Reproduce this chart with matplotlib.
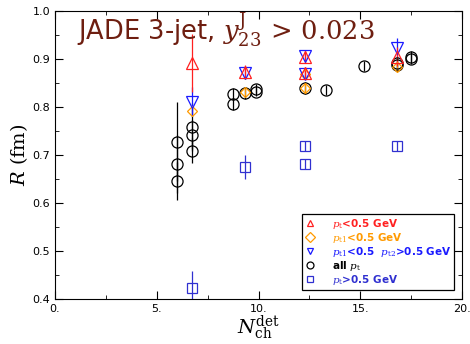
import matplotlib
matplotlib.use("Agg")
import matplotlib.pyplot as plt
from matplotlib.ticker import MultipleLocator, FuncFormatter

# pt < 0.5 GeV (red triangles)
red_x = [6.73, 9.34, 12.3, 12.3, 16.8]
red_y = [0.892, 0.873, 0.904, 0.871, 0.905]
red_err = [0.06, 0.015, 0.012, 0.012, 0.02]

# pt1 < 0.5 GeV (orange diamonds)
orange_x = [6.73, 9.34, 12.3, 12.3, 16.8]
orange_y = [0.792, 0.832, 0.868, 0.840, 0.883]
orange_err = [0.01, 0.01, 0.01, 0.01, 0.01]

# pt1 < 0.5, pt2 > 0.5 GeV (blue down triangles)
blue_x = [6.73, 9.34, 12.3, 12.3, 16.8]
blue_y = [0.811, 0.871, 0.907, 0.868, 0.923]
blue_err = [0.03, 0.012, 0.01, 0.01, 0.02]

# all pt (black circles)
all_x = [5.98, 5.98, 5.98, 6.73, 6.73, 6.73, 8.76, 8.76, 9.34,
         9.86, 9.86, 12.3, 13.3, 15.18, 16.8, 16.8, 17.5, 17.5]
all_y = [0.728, 0.681, 0.646, 0.759, 0.742, 0.709, 0.827, 0.806, 0.829,
         0.838, 0.832, 0.840, 0.835, 0.886, 0.892, 0.888, 0.904, 0.900]
all_err = [0.083, 0.06, 0.04, 0.05, 0.03, 0.026, 0.012, 0.012, 0.012,
           0.01, 0.01, 0.012, 0.01, 0.01, 0.012, 0.01, 0.012, 0.01]

# pt > 0.5 GeV (blue squares)
sq_x = [6.73, 9.34, 12.3, 12.3, 16.8]
sq_y = [0.423, 0.675, 0.719, 0.681, 0.719]
sq_err = [0.035, 0.025, 0.01, 0.01, 0.01]

plt.rcParams["mathtext.fontset"] = "dejavuserif"

fig = plt.figure(figsize=(4.7, 3.44), dpi=100)
ax = fig.add_axes([0.117, 0.131, 0.866, 0.837])

ms = 8
ax.errorbar(all_x, all_y, yerr=all_err, fmt="o", mfc="none", mec="black",
            ecolor="black", elinewidth=0.9, ms=ms, mew=0.9, label=r"all $p_{\rm t}$")
ax.errorbar(sq_x, sq_y, yerr=sq_err, fmt="s", mfc="none", mec="#3030d0",
            ecolor="#3030d0", elinewidth=0.9, ms=7.5, mew=0.9, label=r"$p_{\rm t}$>0.5 GeV")
ax.errorbar(orange_x, orange_y, yerr=orange_err, fmt="D", mfc="none", mec="#ff9a00",
            ecolor="#ff9a00", elinewidth=0.9, ms=5.5, mew=0.9, label=r"$p_{\rm t1}$<0.5 GeV")
ax.errorbar(blue_x, blue_y, yerr=blue_err, fmt="v", mfc="none", mec="#1a1aff",
            ecolor="#1a1aff", elinewidth=0.9, ms=ms, mew=0.9,
            label=r"$p_{\rm t1}$<0.5  $p_{\rm t2}$>0.5 GeV")
ax.errorbar(red_x, red_y, yerr=red_err, fmt="^", mfc="none", mec="#ff2020",
            ecolor="#ff2020", elinewidth=0.9, ms=ms, mew=0.9, label=r"$p_{\rm t}$<0.5 GeV")

ax.set_xlim(0, 20)
ax.set_ylim(0.4, 1.0)
ax.xaxis.set_major_locator(MultipleLocator(5))
ax.xaxis.set_minor_locator(MultipleLocator(2.5))
ax.yaxis.set_major_locator(MultipleLocator(0.1))
ax.yaxis.set_minor_locator(MultipleLocator(0.05))
ax.xaxis.set_major_formatter(FuncFormatter(lambda v, p: "%d." % round(v)))
ax.yaxis.set_major_formatter(FuncFormatter(lambda v, p: "%.1f" % v))
ax.tick_params(which="both", direction="in", top=True, right=True, labelsize=8)
ax.tick_params(which="major", length=6)
ax.tick_params(which="minor", length=3)

ax.set_xlabel(r"$N_{\rm ch}^{\rm det}$", fontsize=14, labelpad=0)
ax.set_ylabel(r"$R\ \mathrm{(fm)}$", fontsize=14, labelpad=2)

ax.text(0.055, 0.935, r"JADE 3-jet, $y_{23}^{\rm J}\,>\,0.023$", transform=ax.transAxes,
        fontsize=18.5, color="#6e1e10", va="center", ha="left")

handles, labels = ax.get_legend_handles_labels()
order = [4, 2, 3, 0, 1]
leg = ax.legend([handles[i][0] for i in order], [labels[i] for i in order],
                loc="lower right", bbox_to_anchor=(0.985, 0.025),
                fancybox=False, edgecolor="black", framealpha=1,
                handlelength=1.0, handletextpad=1.6, borderpad=0.25, labelspacing=0.0,
                borderaxespad=0.2, prop={"weight": "bold", "size": 7.5})
colors = ["#ff2020", "#ff9a00", "#1a1aff", "black", "#3030d0"]
for t, c in zip(leg.get_texts(), colors):
    t.set_color(c)
leg.get_frame().set_linewidth(0.9)
for h in leg.legend_handles:
    h.set_markersize(5)

fig.savefig("out.png", dpi=100)
